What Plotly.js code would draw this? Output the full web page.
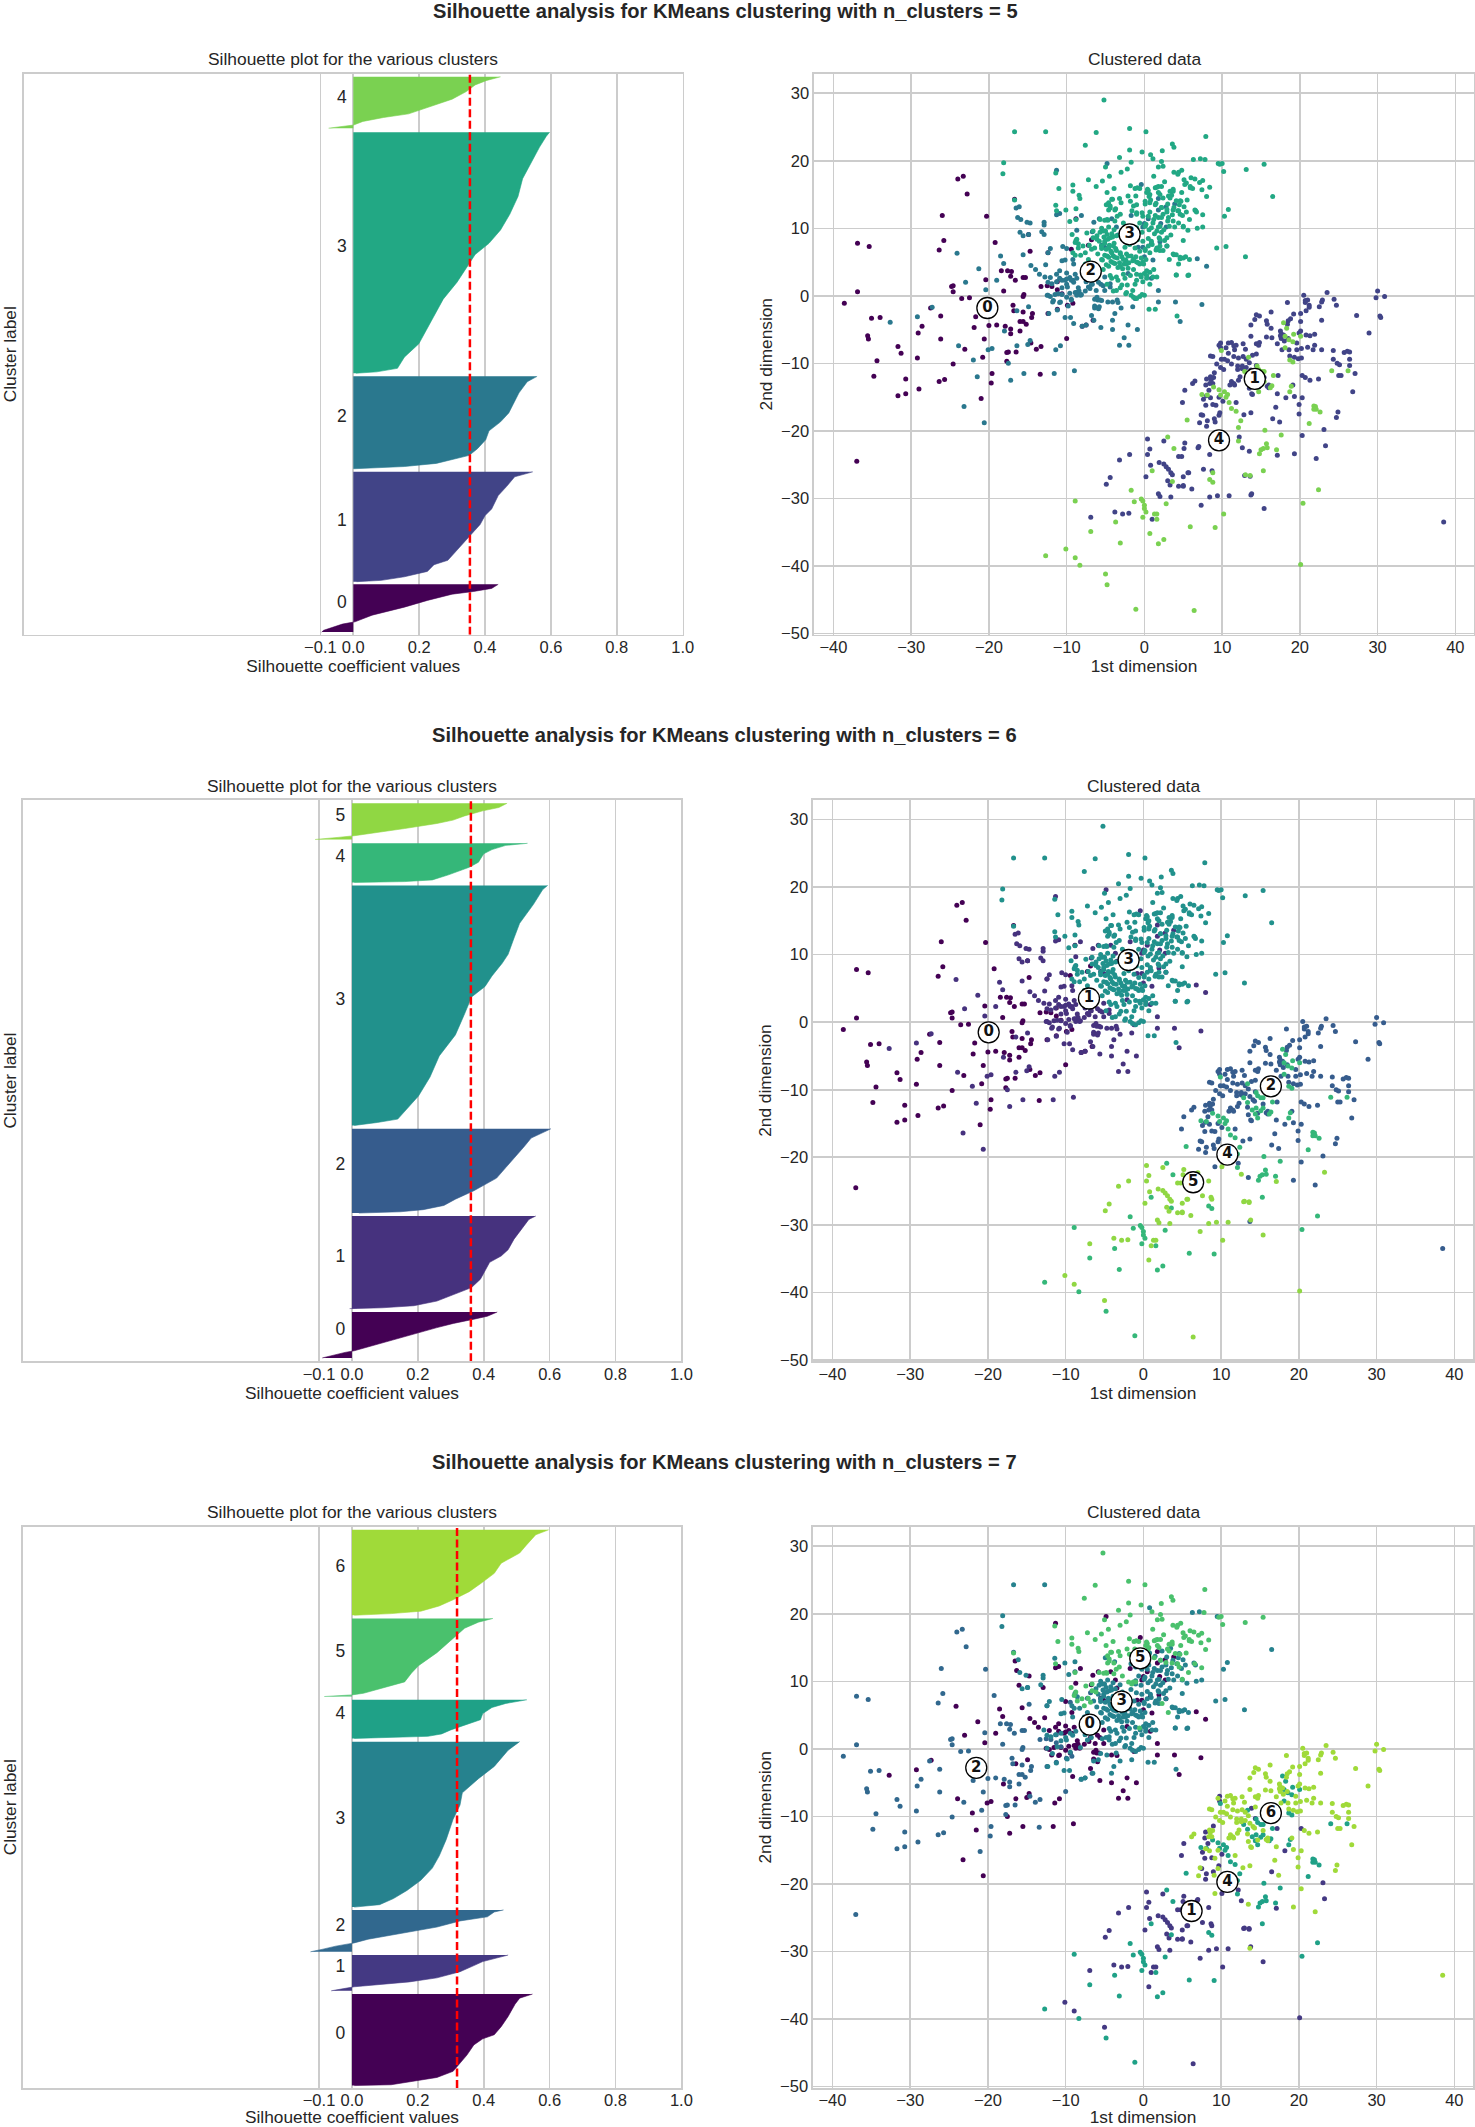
<!DOCTYPE html>
<html><head><meta charset="utf-8">
<script src="https://cdn.plot.ly/plotly-3.0.1.min.js"></script>
<style>html,body{margin:0;padding:0;background:#fff}</style></head>
<body><div id="chart" style="width:1475px;height:2127px"></div>
<script>
// Colours per clustering
const colors5=['#440154','#414487','#2a788e','#22a884','#7ad151'];
const colors6=['#440154','#46327e','#365c8d','#21918c','#35b779','#90d743'];
const colors7=['#440154','#443983','#31688e','#26828e','#1fa187','#4ac16d','#a0da39'];
// Silhouette profiles: y = position (0-1000 of the axis), v = coefficient
const k5_c0_y=[89.9,82.7,77.2,72.4,61.3,49.3,35,23.1,19.1,15.1,8,4.8];
const k5_c0_v=[.44,.42,.365,.30,.225,.155,.057,.005,-.033,-.055,-.09,-.096];
const k5_c1_y=[290.4,281.6,264.1,248.2,224.3,212.4,196.5,176.6,152.7,132.8,124.9,113,103.4,97,94.7];
const k5_c1_v=[.545,.49,.465,.44,.42,.40,.385,.355,.32,.287,.245,.225,.155,.085,.01];
const k5_c2_y=[460.6,451,431.2,411.3,395.4,379.5,363.5,347.6,331.7,319.8,313.4,305.5,299.9,295.9];
const k5_c2_v=[.558,.528,.503,.486,.472,.447,.412,.402,.377,.352,.308,.252,.155,.001];
const k5_c3_y=[895.7,888.6,868.7,836.9,813,781.2,749.4,721.5,697.7,677.8,661.9,628.4,598.2,554.5,518.7,494.8,474.9,468.6,466.2];
const k5_c3_v=[.596,.586,.565,.537,.514,.5,.475,.447,.412,.37,.352,.315,.273,.231,.199,.155,.134,.071,.008];
const k5_c4_y=[994.4,988,980,968.1,954.6,940.3,928.4,922,914.9,908.5,906.1,902.9];
const k5_c4_v=[.447,.405,.37,.343,.30,.224,.168,.092,.029,.001,-.033,-.075];
const k6_c0_y=[87.8,80.3,75,67.5,60,48.8,37.5,26.3,18.8,15.8,11.3,6];
const k6_c0_v=[.441,.411,.37,.308,.258,.188,.119,.049,.007,-.021,-.049,-.09];
const k6_c1_y=[258.8,252.8,236.3,217.6,198.8,187.6,176.3,161.3,146.3,131.3,120,107.3,99,95.3,93.8];
const k6_c1_v=[.558,.537,.516,.492,.474,.453,.418,.404,.39,.363,.314,.258,.188,.091,-.007];
const k6_c2_y=[414.1,405.1,397.6,382.6,360.1,345.1,326.3,315.1,303.8,288.8,277.6,270.1,266.3,264.1];
const k6_c2_v=[.604,.572,.544,.523,.488,.467,.439,.404,.37,.314,.279,.216,.146,.021];
const k6_c3_y=[847.7,840.2,814,780.2,754,725,709,686.4,667.7,648.9,618.9,581.4,543.9,506.4,472.6,446.4,431.4,425.4,420.1];
const k6_c3_v=[.594,.579,.551,.509,.492,.474,.456,.425,.404,.363,.342,.314,.265,.237,.202,.16,.139,.077,.007];
const k6_c4_y=[922.7,919,911.5,904,889,880,866.5,857.5,854.5,853];
const k6_c4_v=[.533,.467,.425,.4,.384,.356,.293,.244,.16,.007];
const k6_c5_y=[994,986.5,980.5,971.5,964,958,949,941.5,936.2,933.2,929.5];
const k6_c5_v=[.471,.446,.397,.342,.307,.258,.16,.077,.007,-.042,-.112];
const k7_c0_y=[167.3,160,149.2,127.4,109.3,94.9,87.6,76.8,58.7,40.5,29.7,18.8,11.6,5.8,4.3];
const k7_c0_v=[.548,.509,.495,.474,.453,.432,.397,.37,.349,.321,.307,.258,.188,.119,.007];
const k7_c1_y=[236.8,232.4,225.2,218,207.1,196.2,189,180.3,176.7,173.1];
const k7_c1_v=[.474,.446,.397,.37,.328,.258,.174,.007,-.028,-.063];
const k7_c2_y=[317.2,313.5,304.9,297.6,286.7,275.9,265,258.5,252.7,246.9,242.6];
const k7_c2_v=[.46,.432,.411,.328,.258,.16,.049,.007,-.049,-.091,-.126];
const k7_c3_y=[616.9,601.7,572.8,551,525.7,504,478.6,442.4,413.5,391.7,370,351.9,337.4,326.6,322.2];
const k7_c3_v=[.509,.474,.432,.384,.335,.328,.307,.286,.265,.244,.209,.167,.126,.084,.007];
const k7_c4_y=[691.5,685,677.8,666.9,656,646.6,637.9,630.7,626.4,622.7];
const k7_c4_v=[.531,.467,.425,.397,.39,.342,.3,.272,.23,.007];
const k7_c5_y=[836.4,829.8,819,800.9,775.5,752.3,739.3,723.4,714,703.1,700.2,698.8,697.3];
const k7_c5_v=[.428,.384,.342,.307,.258,.202,.181,.16,.105,.035,0,-.063,-.084];
const k7_c6_y=[994.2,985.5,967.4,952.9,934.8,916.7,898.6,884.1,869.6,858.7,849.3,845,842.1];
const k7_c6_v=[.597,.558,.53,.509,.453,.432,.391,.356,.307,.265,.209,.119,.007];
// Positions of the cluster-number labels on the silhouette axes
const label5_y=[56,201.6,387,690,955.8];
const label6_y=[55,184.8,348,643,896.7,969.5];
const label7_y=[95,214.5,287.6,478,664.9,775.7,927];
// Mean silhouette scores
const avgScore=[0.354,0.361,0.319];
// Scatter points, flat x,y pairs; array name = cluster label at k=5, k=6, k=7
const p_002=[-38.6,-1.1,-36.9,7.8,-35.4,7.3,-36.9,.6,-37,-24.5,-35.1,-3.3,-34,-3.2,-35.6,-5.9,-35.5,-6.4,-34.4,-9.6,-34.8,-11.9,-31.7,-7.5,-31.3,-8.5,-30.7,-12.3,-31.7,-14.8,-30.7,-14.5,-29,-13.8,-29.2,-9.2,-29.1,-5.5,-28.6,-4.5,-27.5,-1.8,-26.2,-3,-26.2,-6.4,-26.4,-12.7,-25.7,-12.4,-24.6,-10.1,-24,17.3,-23.3,17.7,-22.8,15.1,-26,11.9,-25.8,8.2,-26.4,6.8,-20.3,11.8,-19.2,7.9,-24.8,1.4,-24.6,1.5,-24.6,.6,-23.5,-.4,-22.5,-.3,-20.4,2.4,-18.4,3.7,-17.6,3.7,-17.1,3.6,-17.2,2.9,-16.6,2.3,-15.6,2.7,-15.3,2.7,-18.1,.7,-15.5,.2,-15.6,-.1,-16.7,14.3,-14.9,9.1,-14.7,6.6,-12.4,6.4,-9.4,6.9,-8.8,11.4,-6.8,8.3,-7.2,7.5,-13.3,1.4,-12.5,1.5,-11.9,1.4,-11.2,2.1,-11.2,.9,-10.6,.3,-9.2,-1.1,-9.9,-1.4,-12.4,-2.6,-11.2,-2,-16.9,-1.4,-16.8,-2.2,-15.6,-2.4,-14.5,-3.2,-14.4,-2.6,-16,-3.8,-15.6,-3.8,-15.2,-4.2,-20,-4.4,-19,-4.3,-17.9,-4.5,-17.2,-4.9,-17.2,-5.6,-16,-5.2,-21.9,-4.7,-21.7,-3.1,-20.6,-6.4,-23.1,-7.9,-20.8,-9.1,-17.7,-8.4,-17.5,-8.3,-16.5,-8.3,-17.7,-9.7,-14.6,-7,-13.9,-7.9,-13.3,-7.5,-10,-6.3,-8,-4.5,-7.5,-4.3,-6.6,-3.6,-19.6,-11.5,-19.7,-12.9,-21,-15.2,-13.4,-11.6];
const p_210=[-32.7,-3.9,-29.2,-3.1,-27.3,-1.7,-23.9,-7.4,-23.2,-16.4,-20.6,-18.8,-24.1,6.3,-11.3,18.6,-4.8,19.6,-.4,16.5,-16.5,13,-16.3,11.6,-14.7,10.8,-11.3,12,-10.9,12.2,-8.1,11.9,-6.5,10.9,-5.8,11.4,-16,9.4,-12.9,9.1,-8.7,9.7,-6.7,9.5,-10,7,-9.2,5.4,-15.6,6.1,-18.5,5.9,-18.1,4.8,-21.3,4,-14.6,4.5,-14,3.9,-12.7,4.6,-19,2.3,-23,2,-20.4,.9,-13.5,3.2,-12.1,2.7,-11.3,3.2,-10.9,3.7,-10.9,2.6,-10.2,2.3,-10,3.4,-9.6,2.7,-9.2,2.3,-8.9,3.2,-12.5,.1,-12.1,-.1,-11.8,-.9,-10.8,-.9,-10.6,.2,-9.6,.4,-9.4,-.6,-8.7,.5,-8.4,.7,-8.2,.1,-8.7,.1,-7,1.1,-6.2,.8,-5.1,.8,-5.6,1.7,-6,-.6,-5.7,-.6,-6.4,-.5,-5.9,-1.9,-4.1,-.9,-3.4,-1,-6.8,-2.9,-9.1,-4.1,-5.6,-4.7,-4.1,-5,-2.1,-4.3,-.9,-5,-2.6,-6.2,-3.2,-7.3,-2,-7.3,1.8,.8,1.8,-.9,4,-.9,7.4,-1.3,4.6,-3.8,6.8,5.5,8,4.4,-16.4,-2.2,-14.9,-1.6,-18,-5.2,-16.4,-7.4,-14.7,-6.6,-15,-7.2,-10.8,-7.4,-11.4,-8,-19.6,-7.8,-20.1,-8,-22,-9.5,-17.5,-10,-15.5,-11.5,-11.6,-11.5,-9,-11.1,-17.2,-12.5,-21.5,-12,1.8,14.4,2.8,13.2,1.8,12.7,3.9,13.6,-.2,10.2,2.1,10.7,2.8,10.2,0,10.7,2,8,2.9,7.4,.9,7.7,1.1,5.3,0,5.8,-.8,7.2,-.2,7.2,.9,2.6,-1.7,11.9,.5,11.4,-3.6,10.2,-4.2,11.4,-5.5,7.5,-5.1,7.2,-3.4,9,-2.1,3.3,-5.1,2.8,-1.2,-.4,-10,2.5,-8.5,1.2,-7.6,.7,-6.8,1.7,-5.9,2,-8.9,.5,-6.1,-.2,-6.4,-1.5,-11.5,.2,-10.9,-1,-10,-.2];
const p_213=[-12.8,2.8,-12.4,2,-11.9,1.8,-11.3,2.1,-10.6,2.3,-10,1.7,-9.4,2.3,-8.7,2.6,-9.9,1.3,-10.6,1.2,-11.1,.3,-7.5,2.1,-7.2,1.3,-6.7,1.7,-4.4,1.8,-4.4,1.3,-4.7,-.9,-3.5,-.6,-3,-1.8,-3.8,-2.6,-4.1,-3.6,-6.4,-1.8,-5.8,-1.6,-1.5,-1.6,-10.2,-3.2,-9.5,-3.2,-12.3,-2.6,-11.2,-2.1,-9.8,-1.5,-8,-4.5,-7.5,-4.3,-6.5,-3.6,-16.1,13.2,-15.9,11.3,-15.1,10.9,-12.9,10.9,-12.9,10.5,-13.2,9.5,-15.6,8.9,-14.9,9.1,-12.1,7,-12.4,6.4,-10.5,7.3,-10.6,5.2,-10.2,5.3,-9.1,4.7,-9.1,2,-5.3,1.5,-8.1,.2,-5.5,-.7,-12.4,.1,-11.7,-.7,-9.4,-.5];
const p_333=[-5.5,10,-5,9.6,-4.6,10.2,-4.2,9.2,-3.9,9.8,-5.2,8.7,-4.7,8.4,-4.1,8.7,-3.6,8.9,-5.8,8.1,-5.1,7.8,-4.5,7.5,-3.9,7.8,-5.5,7,-4.9,6.9,-4.3,6.6,-3.7,7,-3.1,6.4,-5.1,6,-4.6,5.7,-4,5.9,-3.5,5.6,-2.9,5.8,-2.4,5.3,-4.3,5.1,-3.8,4.8,-3.2,4.9,-2.6,4.7,-2,4.9,-1.5,5.2,-1,5,-.6,4.7,-.2,5,-1.7,5.9,-2.3,6.2,-1.1,5.8,-.4,5.6,.2,5.4,-3.4,4.2,-2.8,4,-2.1,4.1,-4.9,4.6,-5.4,5.3,-6,6.2,-6.4,7.1,-6.1,8.9,-2.5,7.2,-1.9,7.6,-1.2,7.1,-.6,6.6,.1,6.9,.7,6.4,-2.7,8.4,-1.6,8.8,-.9,8.3,-.2,8.1,.5,8.5,1,7.6,1.5,6.8,2,7.4,-3,9.5,-1,9.6,-.3,9.4,.6,9.8,1.3,9.2,1.9,8.6,2.6,8.2,.2,10.6,1.1,10.8,1.8,10.2,2.5,9.8,3,11.1,2.2,11.6,1.4,11.9,.7,12.4,-.2,11.8,-1,12.3,2.9,12.4,3.6,12,4.3,12.6,4.9,11.9,3.8,13.1,3,13.6,2.2,13.1,1.5,13.7,4.5,13.5,5.1,13.2,5.4,12.4,4.6,14.1,.8,14.2,.1,13.6,2.4,14.5,3.5,14.9,-4.2,2.6,-3.4,2.3,-2.5,2.6,-2.9,1.6,-3.6,.8,-2.4,.3,-1.5,.8,-1.7,.1,-2.2,1.6,-1,2.3,-.4,2.8,-.2,2.1,.3,2.6,0,3.3,.7,3.5,1.1,2.8,-1,-.4,0,.1,-.6,-.1,.6,-2,1.4,-2,4.2,-3,5.6,3,4.1,3.1,5,5.6,4.6,5.5,4.1,6.1,3.8,6.1,4.4,4.7,5,8.2,3.4,9,3.9,10.2,3.2,10.3,5,10.2,5.6,9.7,6.8,10,7.5,10.2,6.5,12.7,6.7,12.4,9.3,7.1,6.3,20.2,7.2,20.3,.8,20.9,9.5,19.6,-4.9,13.5,-3.7,12.9,-11.4,13.4,-10.1,12.7,-8.8,12.9,-9.6,11,-8.8,8.2,-8.5,7.7,-9.2,6.4,-8.9,6,-8.2,6,-12.7,24.3,-16.7,24.3,-18.1,19.7,-18.2,18.1,16.5,14.7,10.3,11.8,10.8,12.8,13,5.8,10.5,7.3,
-1.6,12.6,-1,12.1,-.3,12.3,.5,11.8,1.2,11.3,1.8,11.6,2.4,12.1,3.1,11.6,3.7,11.1,4.4,10.8,2,10.3,1.6,9.6,.9,10.1,.1,10.3,-.6,10.8,-1,10.1,2.2,9.4,2.9,8.6,2,8.4,.9,8.1,.5,7.4,1.6,7.1,2,6.7,2.9,7.4,.1,6.7,-4.8,9.1,-5.3,9.6,-5.7,9.4,-4.4,8.6,-5.1,8.1,-5.5,7.4,-4.6,7.1,-4,7.4,-3.6,6.7,-4.2,6.4,-4.8,5.9,-5.5,5.4,-3.8,5.7,-3.1,6.2,-2.7,5.4,-2.1,5.9,-1.4,5.4,-.8,4.9,-2.3,4.7,-3.1,4.4,-4,4.9,-4.6,4.4,-5.3,3.9,-4.4,3,-3.6,2.8,-2.7,3.2,-1.8,3,-1,3.2,.3,3.7,1.2,3.9,-.1,4.7,-1.4,3.9,-6.4,4.2,-7.2,5.4,-7.6,4.7,-4.8,1.7,-4,.7,-3.1,1.2,-2.3,.5,-1.4,-.2,-.3,.2,.7,1.7,1.6,2.8,.3,3,-1.2,1.7,3.7,6.2,4.6,5.7,5.3,5.8,5.8,5.4,4.1,3.1,5.7,3.1];
const p_335=[-5.2,29,-1.9,24.8,-6.2,24.2,.2,24.3,7.9,23.6,-7.6,22.3,-3.2,20.5,-1.9,21.6,-.3,21.3,2.3,21.5,3.6,22.5,3.8,22,1.1,20.3,2.2,19.9,2.4,19.2,1.8,19.1,-1.7,19.8,-2.2,18.8,-3,18.3,-5,19.1,-4.5,17.7,-5.4,17,-7.2,17.2,-6.2,16.2,-9.2,16.4,-9.2,15.5,-11.4,18.2,-11,15.9,-8.4,14.9,-8.3,14.4,-16.7,14.2,-11.3,12.6,1.2,17.7,3.8,18.3,4.4,18.3,4.8,18.6,4.3,18,5.1,17.2,6,17.5,6.5,17.3,5.4,16.7,5.9,16.2,7.1,16.8,7.5,17.1,8.4,16.1,7.4,15.7,6.2,15.9,3.7,15.8,3.3,15.5,1.4,16,1.8,16.2,.5,15.6,-.9,16,8,14.7,5.5,14.2,4.1,14.1,4.7,14,-3.2,14.4,-4.1,14.3,-4.4,13,-3.5,11.8,-5.1,11.2,-4.7,11.2,-1.9,9.9,-1.3,9.9,-1,9.9,-1.5,9.6,-7.4,9.3,-9.3,9.1,-8.8,11.3,-6.6,8.6,-7.1,7.5,3.2,5.4,2.4,6.7,5.8,11.3,7.5,12,6.6,12.6,-.5,3.1,13.1,18.7,15.4,19.5,10,19.6,10.2,18.4,9.7,19.5,7.8,20.2,2.6,16.9,3.1,14.8,.6,14.7,2,15,-4.8,15.3,-3.9,15.9,
-4.6,13.8,-4.4,13.3,-4.2,14.3,-3,13.8,-4.6,12.7,-3.8,12.7,-3.1,12.1,-1.8,16.3,-1.2,15.9,-.6,15.9,.4,15.8,1.6,16.1,2.2,16.2,.3,15.3,.7,15,1.8,15.3,-2.1,14.8,-1.1,14.8,-1.8,14,-1.4,13.3,-1,13.5,.1,14,.7,13.8,1.4,13.5,2.2,13.1,2.9,12.8,3.7,12.7,4.4,12.6,4.6,12.1,3.3,14.5,3.7,15.5,4.8,15.3,5.2,16.5,5.9,16,5,10.3,-8.7,8.4,-8.9,7.9,-8.5,7.1,-7.9,7.4,-7.6,6.4,-6.8,6.9,-6.1,8.4,-6.6,9.6,-5.7,11.3,-4.8,11.3,-3.8,11.1,-2.7,10.8];
const p_126=[20.5,.1,23.5,.5,30,.7,29.8,-.3,30.9,-.1,18.4,-1,20.7,-.7,21,-.6,20.7,-1,21.2,-1.4,21.2,-1.7,22.9,-.6,22.8,-.9,24.4,-.5,24.7,-1.4,22.5,-1.6,20.8,-2.2,20.1,-2.6,19.2,-2.7,16.3,-2.4,14.4,-2.8,14.8,-3,14.2,-3.5,13.7,-4.3,15.7,-3.7,15.8,-4.2,16.3,-4.8,18.8,-3.4,18.5,-3.7,18.4,-4.2,20.1,-3.8,22.8,-3.6,27.3,-2.9,30.3,-3,30.4,-3.2,28.9,-5.5,13.7,-6,15.7,-6.1,16.4,-6.2,17.5,-5.2,17.6,-5.6,17.5,-5.9,17.9,-5.8,17.6,-6.3,18,-6.7,17.1,-7.1,18.5,-6.3,19.6,-7,19.9,-5.5,20.1,-5.2,20.8,-5.8,21.3,-5.9,21.9,-5.7,21.9,-7.3,21,-7.6,21.7,-8,22.8,-8,20.2,-7.8,19.6,-8,18.6,-8,17.7,-8,24.3,-8.1,25.7,-8.4,26.1,-8.2,26.4,-8.3,24.3,-9.4,26.4,-9.4,24.8,-10,25.1,-10.2,26.4,-10.3,27.1,-11.5,25,-11.8,25.3,-11.8,20.7,-12.1,21.3,-12.5,22.4,-12.3,26.8,-14.2,18.7,-8.9,19.3,-9.1,19.8,-9.3,20.2,-9.2,10.8,-7,11.2,-6.9,10.5,-7.7,9.6,-7.3,11.5,-7.4,11.8,-7.3,11.6,-8,12.7,-7.1,13,-7.9,14.4,-7.1,14.8,-6.9,14.7,-7.3,14.4,-8.6,8.5,-8.9,8.8,-9,10.8,-8.5,11.5,-9,12.1,-9.2,12.7,-9,13.1,-9.4,13.5,-9.9,9.9,-9.4,10.3,-9.4,10.7,-9.6,11.2,-10.1,9.3,-10.1,9.8,-10.6,10.2,-10.9,12,-10.4,12.6,-10.4,13.1,-10.6,12.6,-10.8,12,-10.9,13.7,-11,14.1,-11.5,14.3,-11.7,15.4,-12.1,12.3,-12,12.1,-12.5,11.2,-12.7,11.5,-13,11,-13.2,11.6,-13.2,13.4,-12.6,13.5,-13.7,14.7,-13.5,13.8,-14.5,13.9,-14.6,15.8,-13.4,16,-13.2,16,-13.6,19.1,-13.2,17.1,-14.5,19.3,-14.9,20.3,-15.1,19.9,-16.1,16.9,-16.5,19.9,-17.5,24.9,-17.2,24.7,-18,17.4,-18.7,13.7,-17.3,12.8,-17.6,20.3,-20.7,19.3,-23.4,22.1,-24.1,13.5,-23,13.7,-29.5,9.2,-21.4,7.1,-18.8,7.3,-17.6,9.1,-18.7,9.6,-17.7,9.2,-16.2,11.8,-15.8,6.2,-13,6.5,-12.6,8.5,-12,8.9,-12.1,8.6,-12.4,8.4,-13,8.8,-13,8,-14.8,8.5,-15.1,9.6,-15,38.5,-33.5];
const p_444=[17.9,-4,18.3,-4.8,19.2,-5.7,20.1,-6,18.1,-6,18.6,-6.5,19.1,-6.8,18.1,-7.7,18.7,-9.5,19.1,-9.8,9.9,-8.1,13.4,-9.1,14.5,-10.4,14.7,-10.9,15.1,-11.2,15.4,-11.2,12.9,-11.2,13.4,-11.9,16.6,-11.8,24.1,-11.1,26.2,-11.1,14.5,-12.7,14,-13,15.4,-12.7,15.1,-13.1,16.4,-13.3,16.2,-13.6,14.4,-13.6,14.7,-14.2,18.9,-13.4,18.7,-14.2,8.9,-13.5,9.6,-13.9,7.4,-14.6,8.1,-14.7,9.8,-14.7,10.3,-14.2,10.7,-14.6,10.5,-15,10.9,-15.8,11.2,-16.7,11.8,-17.1,12.4,-18.5,5.5,-18.4,12.1,-19.5,12.1,-21.5,15.5,-19.9,17.6,-20.6,15.7,-21.9,15.3,-22.6,15.8,-22.5,15,-22.8,14.8,-23.4,17,-22.8,15.3,-25.9,8.4,-27.2,8.8,-27.6,22.4,-28.7,20.4,-30.7,5.9,-34.2,9.1,-34.3,21.8,-16.3,22,-16.4,21.8,-16.8,22.1,-16.8,22.6,-17.2,21.2,-18.9,-8.9,-30.4,-1.7,-28.8,-1.3,-30.5,-.4,-30.1,-.2,-30.4,0,-31,0,-31.5,.2,-32,-.2,-32.8,1.6,-33.1,1,-25.9,2.8,-30.8,3.6,-27.5,-6.9,-34.9,-3.1,-36.6,1.8,-36.7,2.5,-36.1,-3.7,-33.5,-12.7,-38.5,-8.3,-39.9,-4.8,-42.8,-1.1,-46.4,3.8,-22.6,3,-20.9];
const p_121=[9.8,-7,9.8,-7.7,13.9,-8.8,14.4,-10.3,9,-11.4,8,-12.3,7.9,-13.2,8.3,-14,17.2,-11.8,20.3,-11.8,5.2,-14,4.9,-15.8,7.6,-15.3,7.9,-16.2,8.8,-16.1,10.1,-15.6,18.2,-15.1,9.7,-17.3,7.5,-17.7,9,-18.2,8.1,-18.5,8,-19.3,16.5,-18.2,23.1,-19.8,12.2,-20.9];
const p_151=[10.1,-21.4,5.2,-21.8,5.1,-22.6,6.9,-22.5,12.6,-22.5,23.3,-22.2,8.4,-23.5,17.1,-23.6,7.6,-25.7,8.7,-25.9,5.6,-26.2,5,-26.8,12.9,-26.6,13.6,-26.7,5,-28.2,6.1,-28.6,8.4,-29.8,9.4,-29.6,10.9,-29.6,7.3,-31,15.4,-31.5,.4,-21.2,2.5,-21.5,7,-22.3,4.4,-23.8,4.8,-23.8,.7,-22.7,.4,-23.5,-1.9,-23.5,-3.2,-24.3,1.9,-24.7,2.5,-24.9,2.8,-25.3,3.1,-25.7,3.4,-26.2,3.6,-26.5,.8,-25.1,.2,-26.8,-4.4,-26.9,-4.9,-27.9,4.4,-28.2,5,-28.1,3,-27.4,3.3,-28,5.7,-26.2,1.8,-29.3,2,-29.7,3.4,-29.8,13.8,-29.3,-3.8,-32,-2.8,-32.3,-2,-32.2,1,-33.1,-6.9,-32.8];
const p_451=[10.2,-32.3,-10.1,-37.5,-8.9,-38.8,-5,-41.2,6.4,-46.6,20.1,-39.8,.7,-35.2,8.8,-26.2,13,-26.5,13.6,-26.6,1.3,-32.3,1.6,-32.3];
const groups=[[p_002,0,0,2],[p_210,2,1,0],[p_213,2,1,3],[p_333,3,3,3],[p_335,3,3,5],[p_126,1,2,6],[p_444,4,4,4],[p_121,1,2,1],[p_151,1,5,1],[p_451,4,5,1]];
// Cluster centres
const centers5_x=[-20.2,14.2,-6.9,-1.9,9.6];const centers5_y=[-1.8,-12.3,3.6,9.1,-21.4];
const centers6_x=[-19.9,-7,16.4,-1.9,10.8,6.4];const centers6_y=[-1.5,3.5,-9.5,9.2,-19.6,-23.7];
const centers7_x=[-6.9,6.2,-21.5,-2.8,10.8,-0.4,16.4];const centers7_y=[3.6,-24,-2.8,7,-19.7,13.4,-9.5];
// Ticks and titles
const silTicks=[-0.1,0,0.2,0.4,0.6,0.8,1.0];
const dimXTicks=[-40,-30,-20,-10,0,10,20,30,40];
const dimYTicks=[-50,-40,-30,-20,-10,0,10,20,30];
const nClusters=[5,6,7];

const profiles=[
 [[k5_c0_y,k5_c0_v],[k5_c1_y,k5_c1_v],[k5_c2_y,k5_c2_v],[k5_c3_y,k5_c3_v],[k5_c4_y,k5_c4_v]],
 [[k6_c0_y,k6_c0_v],[k6_c1_y,k6_c1_v],[k6_c2_y,k6_c2_v],[k6_c3_y,k6_c3_v],[k6_c4_y,k6_c4_v],[k6_c5_y,k6_c5_v]],
 [[k7_c0_y,k7_c0_v],[k7_c1_y,k7_c1_v],[k7_c2_y,k7_c2_v],[k7_c3_y,k7_c3_v],[k7_c4_y,k7_c4_v],[k7_c5_y,k7_c5_v],[k7_c6_y,k7_c6_v]]];
const palette=[colors5,colors6,colors7];
const labelYs=[label5_y,label6_y,label7_y];
const centersX=[centers5_x,centers6_x,centers7_x];
const centersY=[centers5_y,centers6_y,centers7_y];

const W=1475,H=2127;
const frames=[
 {l:[23.9,682.7],r:[814,1474],t:73.7,b:634.8,sup:11.5,sub:59,supx:725},
 {l:[22.5,681.4],r:[813,1473],t:799.9,b:1361.3,sup:735,sub:785.5,supx:724},
 {l:[22.5,681.4],r:[813,1473],t:1526.6,b:2088,sup:1462,sub:1512,supx:724}];
const FONT='"Liberation Sans", Arial, sans-serif';
const INK='#262626',GRID='#cccccc';
const TICK=16.5,LABEL=17.3;
const data=[];
const layout={width:W,height:H,margin:{l:0,r:0,t:0,b:0},paper_bgcolor:'#fff',plot_bgcolor:'#fff',showlegend:false,hovermode:false,
  font:{family:FONT,size:TICK,color:INK},annotations:[]};
function axBase(){return {showline:true,mirror:true,linecolor:GRID,linewidth:1.6,gridcolor:GRID,gridwidth:1.6,zeroline:false,ticks:'',automargin:false,tickfont:{size:TICK,color:INK,family:FONT}};}
const yDom=f=>[1-f.b/H,1-f.t/H];
frames.forEach((f,r)=>{
  const a=2*r+1,b=2*r+2;
  const xa=a===1?'xaxis':'xaxis'+a, ya=a===1?'yaxis':'yaxis'+a, xb='xaxis'+b, yb='yaxis'+b;
  const xs=a===1?'x':'x'+a, ys=a===1?'y':'y'+a, xt='x'+b, yt='y'+b;
  layout[xa]=Object.assign(axBase(),{domain:[f.l[0]/W,f.l[1]/W],range:[-1,1],tickvals:silTicks,tickformat:'.1f',anchor:ys,ticklabelstandoff:-3,
     title:{text:'Silhouette coefficient values',font:{size:LABEL,color:INK},standoff:4}});
  layout[ya]=Object.assign(axBase(),{domain:yDom(f),range:[0,1000],showgrid:false,showticklabels:false,anchor:xs,
     title:{text:'Cluster label',font:{size:LABEL,color:INK},standoff:7}});
  layout[xb]=Object.assign(axBase(),{domain:[f.r[0]/W,f.r[1]/W],range:[-42.5,42.4],tickvals:dimXTicks,anchor:yt,ticklabelstandoff:-3,
     title:{text:'1st dimension',font:{size:LABEL,color:INK},standoff:4}});
  layout[yb]=Object.assign(axBase(),{domain:yDom(f),range:[-50.2,32.9],tickvals:dimYTicks,anchor:xt,
     title:{text:'2nd dimension',font:{size:LABEL,color:INK},standoff:4}});
  profiles[r].forEach((p,c)=>{
    data.push({type:'scatter',mode:'lines',x:p[1],y:p[0],xaxis:xs,yaxis:ys,fill:'tozerox',fillcolor:palette[r][c],line:{color:palette[r][c],width:0.6}});
  });
  data.push({type:'scatter',mode:'text',x:labelYs[r].map(()=>-0.035),y:labelYs[r],text:labelYs[r].map((_,i)=>String(i)),textposition:'middle center',textfont:{size:17.5,color:INK,family:FONT},xaxis:xs,yaxis:ys});
  data.push({type:'scatter',mode:'lines',x:[avgScore[r],avgScore[r]],y:[0,1000],line:{color:'#ff0000',width:2.5,dash:'8px,3.5px'},xaxis:xs,yaxis:ys});
  palette[r].forEach((col,c)=>{
    const px=[],py=[];
    groups.forEach(g=>{ if(g[r+1]===c){ for(let i=0;i<g[0].length;i+=2){px.push(g[0][i]);py.push(g[0][i+1]);} } });
    data.push({type:'scatter',mode:'markers',x:px,y:py,marker:{color:col,size:5,line:{width:0}},xaxis:xt,yaxis:yt});
  });
  data.push({type:'scatter',mode:'markers+text',x:centersX[r],y:centersY[r],text:centersX[r].map((_,i)=>String(i)),textposition:'middle center',
     textfont:{family:'"DejaVu Sans"',size:15,color:'#111',weight:'bold'},marker:{color:'#fff',size:21,line:{color:'#000',width:1.3}},xaxis:xt,yaxis:yt});
  layout.annotations.push(
   {xref:'paper',yref:'paper',x:f.supx/W,y:1-f.sup/H,yanchor:'middle',xanchor:'center',showarrow:false,text:'<b>Silhouette analysis for KMeans clustering with n_clusters = '+nClusters[r]+'</b>',font:{size:20.1,color:INK,family:FONT}},
   {xref:'paper',yref:'paper',x:(f.l[0]+f.l[1])/2/W,y:1-f.sub/H,yanchor:'middle',xanchor:'center',showarrow:false,text:'Silhouette plot for the various clusters',font:{size:17.4,color:INK,family:FONT}},
   {xref:'paper',yref:'paper',x:(f.r[0]+f.r[1])/2/W,y:1-f.sub/H,yanchor:'middle',xanchor:'center',showarrow:false,text:'Clustered data',font:{size:17.4,color:INK,family:FONT}});
});
Plotly.newPlot('chart',data,layout,{displayModeBar:false,staticPlot:true});
</script></body></html>
